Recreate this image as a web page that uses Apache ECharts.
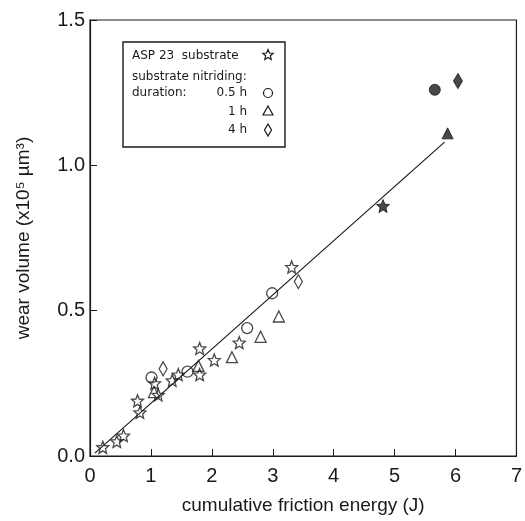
<!DOCTYPE html>
<html>
<head>
<meta charset="utf-8">
<script src="https://cdn.jsdelivr.net/npm/echarts@6/dist/echarts.min.js"></script>
<style>
  html, body { margin: 0; padding: 0; background: #fff; }
  #chart { width: 525px; height: 521px; }
</style>
</head>
<body>
<div id="chart"></div>
<script>
// data
const xTicks = [0, 1, 2, 3, 4, 5, 6, 7]
const yTicks = [0.0, 0.5, 1.0, 1.5]

// ASP 23 substrate (open stars)
const substrateStars = [
  [0.21, 0.03], [0.44, 0.05], [0.55, 0.07], [0.82, 0.15], [0.78, 0.19],
  [1.06, 0.25], [1.12, 0.21], [1.35, 0.26], [1.45, 0.28], [1.8, 0.37],
  [1.8, 0.28], [2.04, 0.33], [2.45, 0.39], [3.31, 0.65]
]
// nitriding 0.5 h (open circles)
const nitr05 = [[1.01, 0.27], [1.6, 0.29], [2.58, 0.44], [2.99, 0.56]]
// nitriding 1 h (open triangles)
const nitr1 = [[1.05, 0.22], [1.78, 0.31], [2.33, 0.34], [2.8, 0.41], [3.1, 0.48]]
// nitriding 4 h (open diamonds)
const nitr4 = [[1.2, 0.3], [3.42, 0.6]]
// filled markers, upper right
const filledStar = [[4.81, 0.86]]
const filledCircle = [[5.66, 1.26]]
const filledTriangle = [[5.87, 1.11]]
const filledDiamond = [[6.04, 1.29]]
// fitted line end points
const fitLine = [[0.08, 0.01], [5.82, 1.08]]

const starPath = 'path://M100,0L126,64L195,69L143,114L159,181L100,145L41,181L57,114L5,69L74,64Z'
const font = 'Liberation Sans, Arial, sans-serif'
const boxFont = 'DejaVu Sans, sans-serif'
const ink = '#1a1a1a'

// small star outline for the legend box
const starPoints = (cx, cy, r) => {
  const pts = []
  for (let k = 0; k < 10; k++) {
    const a = (-90 + 36 * k) * Math.PI / 180
    const rr = k % 2 === 0 ? r : r * 0.45
    pts.push([cx + rr * Math.cos(a), cy + rr * Math.sin(a)])
  }
  return pts
}

const chart = echarts.init(document.getElementById('chart'))

const openStyle = { color: 'rgba(255,255,255,0)', borderColor: ink, borderWidth: 1.3 }
const fillStyle = { color: ink, borderColor: ink, borderWidth: 1 }

const scatter = (data, symbol, size, style) => ({
  type: 'scatter',
  data: data,
  symbol: symbol,
  symbolSize: size,
  itemStyle: style,
  z: 3
})

const txt = (x, y, text, size, align) => ({
  type: 'text', x: x, y: y, z: 11,
  style: { text: text, font: size + 'px ' + boxFont, fill: ink, align: align || 'left', verticalAlign: 'middle' }
})
const outline = { fill: '#fff', stroke: ink, lineWidth: 1.2 }

chart.setOption({
  backgroundColor: '#fff',
  animation: false,
  grid: { left: 90, right: 6, top: 20, bottom: 65, show: true, borderColor: ink, borderWidth: 1.2 },
  xAxis: {
    type: 'value', min: 0, max: 7, interval: 1,
    name: 'cumulative friction energy (J)',
    nameLocation: 'middle', nameGap: 40,
    nameTextStyle: { fontFamily: font, fontSize: 19, color: ink },
    axisLine: { lineStyle: { color: ink, width: 1.2 } },
    axisTick: { inside: true, length: 7, lineStyle: { color: ink } },
    axisLabel: { fontFamily: font, fontSize: 20, color: ink, margin: 10,
      formatter: v => xTicks.includes(v) ? String(v) : '' },
    splitLine: { show: false }
  },
  yAxis: {
    type: 'value', min: 0, max: 1.5, interval: 0.5,
    name: 'wear volume (x10⁵ µm³)',
    nameLocation: 'middle', nameGap: 57,
    nameTextStyle: { fontFamily: font, fontSize: 19, color: ink },
    axisLine: { lineStyle: { color: ink, width: 1.2 } },
    axisTick: { inside: true, length: 7, lineStyle: { color: ink } },
    axisLabel: { fontFamily: font, fontSize: 20, color: ink, margin: 5,
      formatter: v => yTicks.includes(v) ? v.toFixed(1) : '' },
    splitLine: { show: false }
  },
  series: [
    {
      type: 'line', data: fitLine, showSymbol: false, symbol: 'none',
      lineStyle: { color: ink, width: 1.2 }, z: 2
    },
    scatter(substrateStars, starPath, 12, openStyle),
    scatter(nitr05, 'circle', 11, openStyle),
    scatter(nitr1, 'triangle', 11, openStyle),
    scatter(nitr4, 'diamond', [8, 14], openStyle),
    scatter(filledStar, starPath, 13, fillStyle),
    scatter(filledCircle, 'circle', 11, fillStyle),
    scatter(filledTriangle, 'triangle', 11, fillStyle),
    scatter(filledDiamond, 'diamond', [9, 15], fillStyle)
  ],
  graphic: [
    { type: 'rect', shape: { x: 123, y: 42, width: 162, height: 105 },
      style: { fill: '#fff', stroke: ink, lineWidth: 1.4 }, z: 10 },
    txt(132, 56, 'ASP 23  substrate', 12),
    txt(132, 77, 'substrate nitriding:', 12),
    txt(132, 93, 'duration:', 12),
    txt(247, 93, '0.5 h', 12, 'right'),
    txt(247, 112, '1 h', 12, 'right'),
    txt(247, 130, '4 h', 12, 'right'),
    { type: 'polygon', shape: { points: starPoints(268, 55, 5.5) }, style: outline, z: 11 },
    { type: 'circle', shape: { cx: 268, cy: 93, r: 4.5 }, style: outline, z: 11 },
    { type: 'polygon', shape: { points: [[268, 106], [273, 115], [263, 115]] }, style: outline, z: 11 },
    { type: 'polygon', shape: { points: [[268, 124], [271.5, 130], [268, 136], [264.5, 130]] }, style: outline, z: 11 }
  ]
})
</script>
</body>
</html>
